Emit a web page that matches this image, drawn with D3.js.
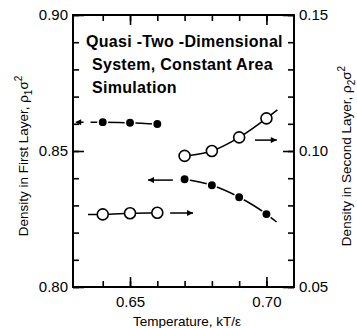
<!DOCTYPE html>
<html>
<head>
<meta charset="utf-8">
<script src="https://cdn.jsdelivr.net/npm/d3@7"></script>
<style>
  body { margin: 0; background: #fff; }
  text { font-family: "Liberation Sans", Arial, sans-serif; fill: #000; }
</style>
</head>
<body>
<svg id="chart" width="357" height="328"></svg>
<script>
const tempLow = [0.64, 0.65, 0.66]
const tempHigh = [0.67, 0.68, 0.69, 0.70]
const firstLow = [0.8606, 0.8604, 0.8599]
const firstHigh = [0.8396, 0.8374, 0.8330, 0.8268]
const secondLow = [0.0767, 0.0771, 0.0773]
const secondHigh = [0.0982, 0.1000, 0.1050, 0.1120]

// ends of the hand drawn trend lines beyond the points [T, density]
const firstHighTail = [0.7037, 0.8239]
const secondHighTail = [0.7040, 0.1151]
const secondLowTail = [0.6346, 0.0767]

// arrows pointing to the axis each curve belongs to [T from, T to, density, dashed]
const firstArrows = [[0.6381, 0.6299, 0.8606, true], [0.6657, 0.6566, 0.8393, false]]
const secondArrows = [[0.6647, 0.6731, 0.0772, false], [0.6958, 0.7038, 0.1040, false]]

const xTicks = [0.64, 0.65, 0.66, 0.67, 0.68, 0.69, 0.70]
const xLabels = [0.65, 0.70]
const leftTicks = [0.80, 0.81, 0.82, 0.83, 0.84, 0.85, 0.86, 0.87, 0.88, 0.89, 0.90]
const leftLabels = [0.80, 0.85, 0.90]
const rightTicks = [0.05, 0.06, 0.07, 0.08, 0.09, 0.10, 0.11, 0.12, 0.13, 0.14, 0.15]
const rightLabels = [0.05, 0.10, 0.15]
const noteLines = ['Quasi -Two -Dimensional', 'System, Constant Area', 'Simulation']

const W = 357, H = 328
const m = {top: 15, right: 63, bottom: 41, left: 73}

const svg = d3.select('#chart')

const x = d3.scaleLinear().domain([0.6291, 0.7101]).range([m.left, W - m.right])
const yL = d3.scaleLinear().domain([0.80, 0.90]).range([H - m.bottom, m.top])
const yR = d3.scaleLinear().domain([0.05, 0.15]).range([H - m.bottom, m.top])

const fmt = d3.format('.2f')

function ticks(axis, values, size, labels) {
  return axis.tickValues(values).tickSize(-size)
    .tickFormat(labels ? fmt : '')
}

function addAxis(axis, tx, ty, pad) {
  const g = svg.append('g')
    .attr('transform', `translate(${tx},${ty})`)
    .call(axis.tickPadding(pad))
  g.select('.domain').remove()
  g.selectAll('line').attr('stroke', '#000').attr('stroke-width', 1.6)
  g.selectAll('text').style('font-size', '15px').attr('fill', '#000')
  return g
}

const bottom = H - m.bottom, right = W - m.right
addAxis(ticks(d3.axisBottom(x), xTicks, 6, false), 0, bottom, 0)
addAxis(ticks(d3.axisBottom(x), xLabels, 10, true), 0, bottom, 9)
addAxis(ticks(d3.axisTop(x), xTicks, 6, false), 0, m.top, 0)
addAxis(ticks(d3.axisTop(x), xLabels, 10, false), 0, m.top, 0)
addAxis(ticks(d3.axisLeft(yL), leftTicks, 6, false), m.left, 0, 0)
addAxis(ticks(d3.axisLeft(yL), leftLabels, 11, true), m.left, 0, 5)
addAxis(ticks(d3.axisRight(yR), rightTicks, 6, false), right, 0, 0)
addAxis(ticks(d3.axisRight(yR), rightLabels, 11, true), right, 0, 5)

svg.append('rect')
  .attr('x', m.left).attr('y', m.top)
  .attr('width', right - m.left).attr('height', bottom - m.top)
  .attr('fill', 'none').attr('stroke', '#000').attr('stroke-width', 2)

// arrow head
svg.append('defs').append('marker')
  .attr('id', 'head')
  .attr('viewBox', '0 0 10 10')
  .attr('refX', 10).attr('refY', 5)
  .attr('markerUnits', 'userSpaceOnUse')
  .attr('markerWidth', 10).attr('markerHeight', 6)
  .attr('orient', 'auto')
  .append('path').attr('d', 'M0,0L10,5L0,10Z').attr('fill', '#000')

const plot = svg.append('g')

function curve(ts, vs, y, head, tail) {
  const pts = ts.map((t, i) => [t, vs[i]])
  if (head) pts.unshift(head)
  if (tail) pts.push(tail)
  plot.append('path')
    .attr('d', d3.line().x(d => x(d[0])).y(d => y(d[1])).curve(d3.curveMonotoneX)(pts))
    .attr('fill', 'none').attr('stroke', '#000').attr('stroke-width', 1.5)
}

curve(tempLow, firstLow, yL)
curve(tempHigh, firstHigh, yL, null, firstHighTail)
curve(tempLow, secondLow, yR, secondLowTail, null)
curve(tempHigh, secondHigh, yR, null, secondHighTail)

function arrows(list, y) {
  list.forEach(a => {
    plot.append('line')
      .attr('x1', x(a[0])).attr('x2', x(a[1]))
      .attr('y1', y(a[2])).attr('y2', y(a[2]))
      .attr('stroke', '#000').attr('stroke-width', 1.5)
      .attr('stroke-dasharray', a[3] ? '7,7' : null)
      .attr('marker-end', 'url(#head)')
  })
}
arrows(firstArrows, yL)
arrows(secondArrows, yR)

function dots(ts, vs, y, filled) {
  plot.append('g').selectAll('circle')
    .data(ts.map((t, i) => [t, vs[i]]))
    .join('circle')
    .attr('cx', d => x(d[0])).attr('cy', d => y(d[1]))
    .attr('r', filled ? 4.7 : 5.5)
    .attr('fill', filled ? '#000' : '#fff')
    .attr('stroke', filled ? '#fff' : '#000')
    .attr('stroke-width', filled ? 1.5 : 1.6)
}
dots(tempLow, firstLow, yL, true)
dots(tempHigh, firstHigh, yL, true)
dots(tempLow, secondLow, yR, false)
dots(tempHigh, secondHigh, yR, false)

// boxed note
svg.append('g').selectAll('text')
  .data(noteLines)
  .join('text')
  .attr('x', (d, i) => i ? 92 : 86)
  .attr('y', (d, i) => 47 + i * 23)
  .style('font-size', '16px').style('font-weight', 'bold')
  .style('letter-spacing', '0.3px')
  .text(d => d)

// axis titles
svg.append('text')
  .attr('x', 187).attr('y', H - 2)
  .attr('text-anchor', 'middle').style('font-size', '13.5px')
  .text('Temperature, kT/\u03b5')

function sideTitle(cx, cy, sub) {
  const t = svg.append('text')
    .attr('transform', `translate(${cx},${cy}) rotate(-90)`)
    .attr('text-anchor', 'middle').style('font-size', '13.5px')
  t.append('tspan').text(`Density in ${sub === '1' ? 'First' : 'Second'} Layer, \u03c1`)
  t.append('tspan').attr('dy', 4).style('font-size', '10px').text(sub)
  t.append('tspan').attr('dy', -4).text('\u03c3')
  t.append('tspan').attr('dy', -6).style('font-size', '10px').text('2')
}
sideTitle(28, 156, '1')
sideTitle(351, 156, '2')
</script>
</body>
</html>
